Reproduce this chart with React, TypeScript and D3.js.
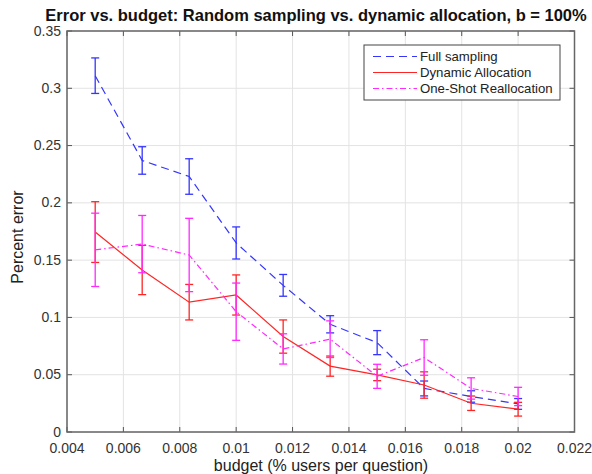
import React from "react";
import * as d3 from "d3";

const budgets = [0.005, 0.0066667, 0.0083333, 0.01, 0.0116667, 0.0133333, 0.015, 0.0166667, 0.0183333, 0.02];

const fullMean = [0.311, 0.237, 0.223, 0.165, 0.128, 0.094, 0.078, 0.038, 0.031, 0.0245];
const fullErr = [0.0155, 0.012, 0.0155, 0.014, 0.0095, 0.0075, 0.0105, 0.0065, 0.005, 0.0047];

const dynMean = [0.1745, 0.1414, 0.1133, 0.1196, 0.0833, 0.0575, 0.0498, 0.041, 0.0251, 0.0199];
const dynErr = [0.0265, 0.0215, 0.0155, 0.0175, 0.0145, 0.0088, 0.005, 0.0115, 0.0063, 0.006];

const oneMean = [0.159, 0.164, 0.1545, 0.105, 0.0725, 0.081, 0.0486, 0.065, 0.038, 0.031];
const oneErr = [0.032, 0.025, 0.032, 0.025, 0.0132, 0.016, 0.0105, 0.0155, 0.0093, 0.008];

const xTicks = [0.004, 0.006, 0.008, 0.01, 0.012, 0.014, 0.016, 0.018, 0.02, 0.022];
const yTicks = [0, 0.05, 0.1, 0.15, 0.2, 0.25, 0.3, 0.35];

const seriesNames = ["Full sampling", "Dynamic Allocation", "One-Shot Reallocation"];

const W = 592;
const H = 474;
const left = 67;
const right = 574.5;
const top = 31;
const bottom = 432;

const font = "'Liberation Sans', Arial, Helvetica, sans-serif";

export default function App() {
  const x = d3.scaleLinear().domain([0.004, 0.022]).range([left, right]);
  const y = d3.scaleLinear().domain([0, 0.35]).range([bottom, top]);
  const line = d3
    .line<number>()
    .x((_, i) => x(budgets[i]))
    .y((d) => y(d));

  const series = [
    { name: seriesNames[0], mean: fullMean, err: fullErr, color: "#3535ff", dash: "8,5", width: 1.2 },
    { name: seriesNames[1], mean: dynMean, err: dynErr, color: "#ff2525", dash: "", width: 1.2 },
    { name: seriesNames[2], mean: oneMean, err: oneErr, color: "#ff2aff", dash: "6,3,1.5,3", width: 1.2 },
  ];

  const cap = 4;
  const fmt = (v: number) => (v === 0 ? "0" : String(+v.toFixed(3)));

  return (
    <div style={{ position: "absolute", left: 0, top: 0 }}>
      <svg width={W} height={H} style={{ display: "block", background: "#fff" }} fontFamily={font}>
        <rect x={0} y={0} width={W} height={H} fill="#fff" />
        {/* grid */}
        {xTicks.map((t) => (
          <line key={"gx" + t} x1={x(t)} x2={x(t)} y1={top} y2={bottom} stroke="#e3e3e3" strokeWidth={1} />
        ))}
        {yTicks.map((t) => (
          <line key={"gy" + t} x1={left} x2={right} y1={y(t)} y2={y(t)} stroke="#e3e3e3" strokeWidth={1} />
        ))}
        {/* ticks */}
        {xTicks.map((t) => (
          <g key={"tx" + t}>
            <line x1={x(t)} x2={x(t)} y1={bottom} y2={bottom - 5} stroke="#555" />
            <line x1={x(t)} x2={x(t)} y1={top} y2={top + 5} stroke="#555" />
            <text x={x(t)} y={453} fontSize={14} fill="#333" textAnchor="middle">
              {fmt(t)}
            </text>
          </g>
        ))}
        {yTicks.map((t) => (
          <g key={"ty" + t}>
            <line x1={left} x2={left + 5} y1={y(t)} y2={y(t)} stroke="#555" />
            <line x1={right} x2={right - 5} y1={y(t)} y2={y(t)} stroke="#555" />
            <text x={61} y={y(t) + 4.5} fontSize={14} fill="#333" textAnchor="end">
              {fmt(t)}
            </text>
          </g>
        ))}
        {/* series */}
        {series.map((s) => (
          <g key={s.name}>
            <path d={line(s.mean) || ""} fill="none" stroke={s.color} strokeWidth={s.width} strokeDasharray={s.dash} />
            {s.mean.map((m, i) => {
              const cx = x(budgets[i]);
              const y1 = y(m + s.err[i]);
              const y2 = y(m - s.err[i]);
              return (
                <g key={i} stroke={s.color} strokeWidth={1.3}>
                  <line x1={cx} x2={cx} y1={y1} y2={y2} />
                  <line x1={cx - cap} x2={cx + cap} y1={y1} y2={y1} />
                  <line x1={cx - cap} x2={cx + cap} y1={y2} y2={y2} />
                </g>
              );
            })}
          </g>
        ))}
        {/* axes box */}
        <rect x={left} y={top} width={right - left} height={bottom - top} fill="none" stroke="#666" strokeWidth={1.5} />
        {/* legend */}
        <rect x={364} y={45} width={196} height={55} fill="#fff" stroke="#444" strokeWidth={1} />
        {series.map((s, i) => (
          <g key={"lg" + i}>
            <line x1={373} x2={417} y1={56.5 + i * 16} y2={56.5 + i * 16} stroke={s.color} strokeWidth={1.2} strokeDasharray={s.dash} />
            <text x={420} y={61 + i * 16} fontSize={13.2} fill="#222">
              {s.name}
            </text>
          </g>
        ))}
        {/* title and labels */}
        <text x={316} y={21} fontSize={16.5} fontWeight="bold" textAnchor="middle" fill="#111">
          Error vs. budget: Random sampling vs. dynamic allocation, b = 100%
        </text>
        <text x={321} y={471} fontSize={16} textAnchor="middle" fill="#222">
          budget (% users per question)
        </text>
        <text transform={`translate(23, 237) rotate(-90)`} fontSize={16} textAnchor="middle" fill="#222">
          Percent error
        </text>
      </svg>
    </div>
  );
}
